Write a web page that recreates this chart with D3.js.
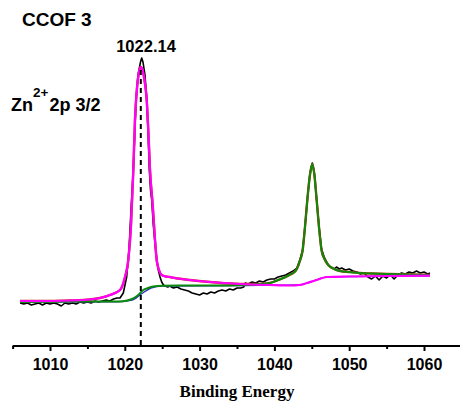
<!DOCTYPE html>
<html>
<head>
<meta charset="utf-8">
<script src="https://cdn.jsdelivr.net/npm/d3@7"></script>
<style>
  html, body { margin: 0; padding: 0; background: #fff; }
  svg { display: block; }
</style>
</head>
<body>
<div id="chart"></div>
<script>
// ---------- DATA ----------
// Experimental spectrum (binding energy, eV / intensity, a.u.)
const expBE = [1006.0,1006.5,1007.0,1007.5,1008.0,1008.5,1009.0,1009.5,1010.0,1010.5,1011.0,1011.5,1012.0,1012.5,1013.0,1013.5,1014.0,1014.5,1015.0,1015.5,1016.0,1016.5,1017.0,1017.5,1018.0,1018.5,1018.96,1019.36,1019.8,1020.25,1020.56,1020.83,1021.1,1021.3,1021.5,1021.77,1022.1,1022.26,1022.43,1022.7,1022.9,1023.1,1023.28,1023.44,1023.6,1023.81,1024.04,1024.26,1024.48,1024.71,1024.93,1025.17,1025.37,1025.75,1026.0,1026.5,1027.0,1027.5,1028.0,1028.5,1029.0,1029.5,1030.0,1030.5,1031.0,1031.5,1032.0,1032.5,1033.0,1033.5,1034.0,1034.5,1035.0,1035.5,1035.9,1036.1,1036.5,1037.0,1037.5,1038.0,1038.5,1039.0,1039.5,1040.0,1040.5,1041.0,1041.5,1042.0,1042.5,1043.0,1043.4,1043.78,1044.1,1044.4,1044.75,1045.07,1045.35,1045.65,1046.0,1046.3,1046.7,1047.2,1047.7,1048.0,1048.3,1048.7,1049.0,1049.5,1050.0,1050.5,1051.0,1051.5,1052.0,1052.5,1053.0,1053.5,1054.0,1054.5,1055.0,1055.5,1056.0,1056.5,1057.0,1057.5,1058.0,1058.5,1059.0,1059.5,1060.0,1060.5,1060.8];
const expCounts = [43,42,43,41,42,43,41,43,42,43,42,40,43,42,43,42,44,43,44,43,45,44,45,46,45,47,48,48,53,69,96,136,171,206,246,271,284,288,284,271,251,216,176,156,146,121,103,88,76,69,64,61,60,59,60,58,59,57,56,55,53,52,51,53,52,54,53,55,56,55,57,56,58,58,59,63,62,64,63,65,64,66,67,67,69,70,71,73,75,78,86,96,120,146,172,183,172,146,117,97,88,81,78,77,79,77,78,76,77,75,74,72,73,69,67,70,66,70,68,71,67,71,73,72,74,73,75,73,74,72,73];

// Fit: Zn 2p3/2 component + background (magenta)
const fit1BE = [1006.0,1010.0,1012.67,1015.35,1016.68,1018.02,1019.36,1020.03,1020.47,1020.83,1021.14,1021.36,1021.63,1021.9,1022.13,1022.37,1022.63,1022.93,1023.17,1023.37,1023.73,1024.04,1024.26,1024.57,1024.93,1025.51,1026.0,1026.7,1028.7,1031.4,1035.4,1039.4,1042.1,1043.4,1044.36,1045.43,1047.06,1050.1,1055.45,1060.8];
const fit1Counts = [45,45,45.5,46.5,48,51,56,69,86,121,176,226,258,274,279,276,266,246,211,176,141,106,86,76,71,69.5,69,68,66,64,62,61,60.5,61,63,65.5,69,69.5,70,70.3];

// Fit: Zn 2p1/2 component + background (green)
const fit2BE = [1006.0,1010.0,1015.0,1019.36,1020.3,1021.14,1021.8,1022.47,1023.1,1023.8,1025.1,1028.0,1032.0,1036.0,1038.0,1039.4,1040.5,1041.5,1042.0,1042.5,1043.0,1043.4,1043.78,1044.1,1044.4,1044.75,1045.07,1045.35,1045.65,1046.0,1046.3,1046.7,1047.2,1048.0,1048.8,1050.0,1051.4,1053.0,1055.5,1058.0,1060.8];
const fit2Counts = [44,44.3,44.5,44.6,45.5,47.7,51,56,58,59.5,60.3,60.5,60.5,61,62,63,66,69,71,73,77,85,96,120,146,171,182,171,146,116,96,87,81,77,75,74,73,72.5,72,71.5,71];

// Background (blue)
const bgBE = [1006.0,1019.0,1021.0,1022.2,1023.5,1025.0,1036.0,1043.0,1044.4,1045.4,1047.0,1050.0,1060.8];
const bgCounts = [44,44.3,46,52,58,60,60.5,61,63,65.5,69,69.5,70.3];

const peakPosition = 1022.14;
const majorTicks = [1010,1020,1030,1040,1050,1060];
const minorTicks = [1005,1015,1025,1035,1045,1055,1065];

// ---------- CHART ----------
const W = 460, H = 407;
const svg = d3.select("#chart").append("svg").attr("width", W).attr("height", H);

const x = d3.scaleLinear().domain([1005, 1065]).range([12.6, 461.4]);
const y = d3.scaleLinear().domain([0, 300]).range([346, 46]);

const line = d3.line().x(d => x(d[0])).y(d => y(d[1]));
const smooth = d3.line().x(d => x(d[0])).y(d => y(d[1])).curve(d3.curveMonotoneX);

const zip = (a, b) => a.map((v, i) => [v, b[i]]);

// experimental
svg.append("path").datum(zip(expBE, expCounts))
  .attr("d", line).attr("fill", "none").attr("stroke", "#000").attr("stroke-width", 1.6)
  .attr("stroke-linejoin", "round");

// background (blue), envelope (red)
svg.append("path").datum(zip(bgBE, bgCounts))
  .attr("d", smooth).attr("fill", "none").attr("stroke", "#3030c0").attr("stroke-width", 1.4);
const envBE = fit1BE.filter(v => v < 1037).concat(fit2BE.filter(v => v >= 1037));
const envCounts = fit1BE.map((v, i) => [v, fit1Counts[i]]).filter(d => d[0] < 1037).map(d => d[1])
  .concat(fit2BE.map((v, i) => [v, fit2Counts[i]]).filter(d => d[0] >= 1037).map(d => d[1]));
svg.append("path").datum(zip(envBE, envCounts))
  .attr("d", smooth).attr("fill", "none").attr("stroke", "#d03010").attr("stroke-width", 2.4);

// green fit
svg.append("path").datum(zip(fit2BE, fit2Counts))
  .attr("d", smooth).attr("fill", "none").attr("stroke", "#0b8a0b").attr("stroke-width", 2);

// magenta fit
svg.append("path").datum(zip(fit1BE, fit1Counts))
  .attr("d", smooth).attr("fill", "none").attr("stroke", "#ff00ff").attr("stroke-width", 2.2);

// dashed marker
svg.append("line")
  .attr("x1", x(peakPosition)).attr("x2", x(peakPosition))
  .attr("y1", y(276)).attr("y2", y(0))
  .attr("stroke", "#000").attr("stroke-width", 2).attr("stroke-dasharray", "5,4");

// axis
const axisG = svg.append("g").attr("transform", `translate(0,${y(0)})`);
axisG.call(d3.axisBottom(x).tickValues(majorTicks).tickSize(5).tickSizeOuter(0).tickPadding(8).tickFormat(d3.format("d")));
axisG.select(".domain").attr("stroke-width", 2).attr("d", `M${x(1005)},0H${W}`);
axisG.selectAll(".tick line").attr("stroke-width", 2);
axisG.selectAll(".tick text")
  .attr("font-family", "'Liberation Sans', Arial, sans-serif")
  .attr("font-weight", "bold").attr("font-size", 16).attr("fill", "#000");
const minorG = svg.append("g").attr("transform", `translate(0,${y(0)})`);
minorG.call(d3.axisBottom(x).tickValues(minorTicks).tickSize(3).tickSizeOuter(0).tickFormat(""));
minorG.select(".domain").remove();
minorG.selectAll(".tick line").attr("stroke-width", 2);

// texts
svg.append("text").attr("x", 22).attr("y", 26)
  .attr("font-family", "'Liberation Sans', Arial, sans-serif").attr("font-weight", "bold")
  .attr("font-size", 19).text("CCOF 3");

svg.append("text").attr("x", 146).attr("y", 52).attr("text-anchor", "middle")
  .attr("font-family", "'Liberation Sans', Arial, sans-serif").attr("font-weight", "bold")
  .attr("font-size", 16.5).text("1022.14");

const zn = svg.append("text").attr("x", 11).attr("y", 111)
  .attr("font-family", "'Liberation Sans', Arial, sans-serif").attr("font-weight", "bold")
  .attr("font-size", 18);
zn.append("tspan").text("Zn");
zn.append("tspan").attr("dy", -14.5).attr("font-size", 13.5).text("2+");
zn.append("tspan").attr("dy", 14.5).attr("dx", 1).text("2p 3/2");

svg.append("text").attr("x", 237).attr("y", 397).attr("text-anchor", "middle")
  .attr("font-family", "'Liberation Serif', 'Times New Roman', serif").attr("font-weight", "bold")
  .attr("font-size", 17).text("Binding Energy");
</script>
</body>
</html>
